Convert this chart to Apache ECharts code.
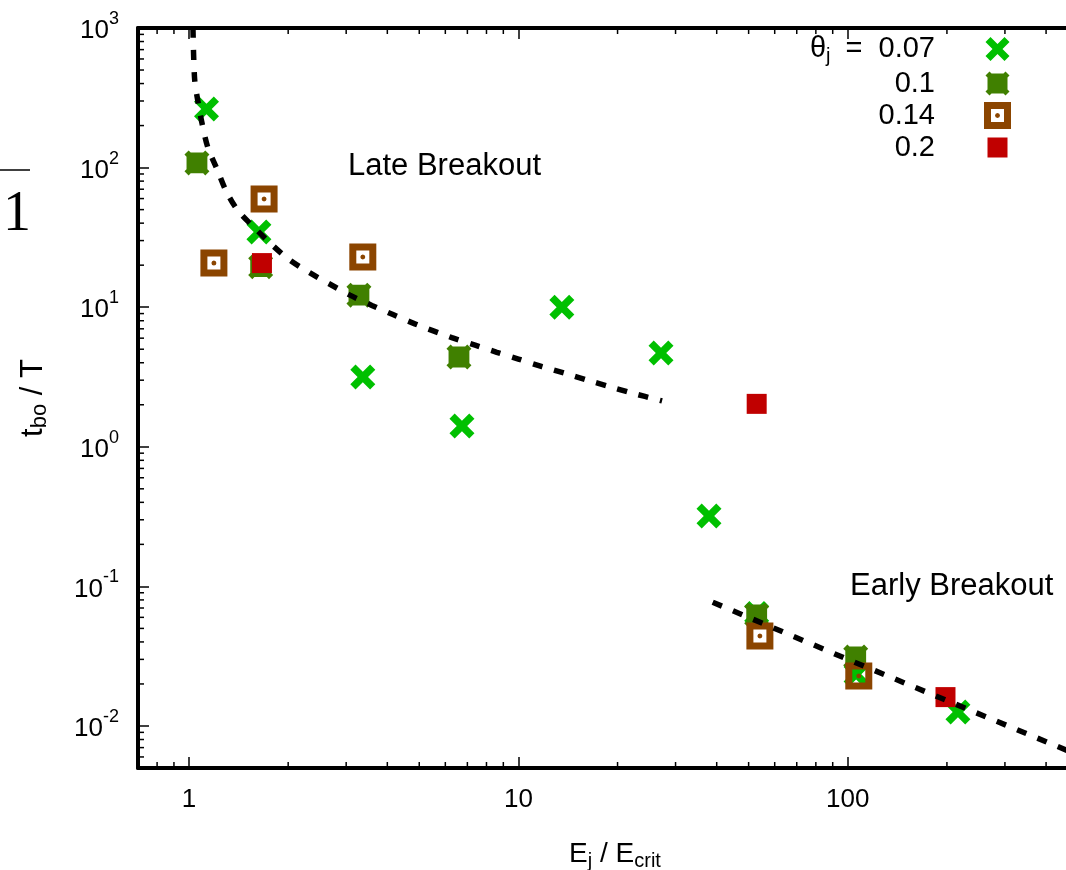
<!DOCTYPE html>
<html><head><meta charset="utf-8">
<script src="https://cdn.jsdelivr.net/npm/echarts@6/dist/echarts.min.js"></script>
<style>html,body{margin:0;padding:0;background:#fff}#c{width:1066px;height:870px}</style>
</head><body><div id="c"></div>
<script>
// ---------------- data ----------------
const seriesNames = ['0.07', '0.1', '0.14', '0.2'];
const theta007 = [[1.13,263],[1.63,34.6],[3.37,3.16],[6.74,1.41],[13.55,10.0],[27.1,4.7],[37.9,0.319],[52.9,0.064],[106,0.0235],[216,0.0126]];
const theta010 = [[1.057,108],[1.65,19.5],[3.28,12.2],[6.6,4.40],[52.9,0.0624],[105.7,0.0312]];
const theta014 = [[1.19,20.7],[1.69,59.6],[3.37,22.9],[54.1,0.0441],[108,0.0228]];
const theta020 = [[1.665,20.7],[52.9,2.03],[198,0.0161]];
const lateFit = [[1.028,1000],[1.04,430],[1.065,295],[1.095,208],[1.14,140],[1.216,97.6],[1.30,67],[1.41,49],[1.61,35.5],[1.80,27.5],[2.02,21.8],[2.33,17.6],[2.68,14.6],[3.08,12.2],[3.59,10.3],[4.16,8.85],[4.85,7.6],[6.28,6.05],[7.39,5.35],[8.6,4.75],[10,4.25],[11.8,3.75],[13.9,3.35],[16.2,3.0],[18.9,2.7],[22.1,2.43],[27.3,2.13]];
const earlyFit = [[38.9,0.077],[100,0.030],[200,0.0152],[500,0.0062]];
const xTickValues = [1, 10, 100];
const xTickLabels = ['1', '10', '100'];
const yTickValues = [0.01, 0.1, 1, 10, 100, 1000];
const yTickExps = ['-2', '-1', '0', '1', '2', '3'];
const xMinorTicks = [0.8,0.9,2,3,4,5,6,7,8,9,20,30,40,50,60,70,80,90,200,300,400];
const yMinorTicks = [0.006,0.007,0.008,0.009,0.02,0.03,0.04,0.05,0.06,0.07,0.08,0.09,0.2,0.3,0.4,0.5,0.6,0.7,0.8,0.9,2,3,4,5,6,7,8,9,20,30,40,50,60,70,80,90,200,300,400,500,600,700,800,900];

// ---------------- style ----------------
const X_MIN = 0.7, X_MAX = 500, Y_MIN = 0.005, Y_MAX = 1000;
const FONT = '"Liberation Sans", Arial, Helvetica, sans-serif';
const C_GREEN = '#00c000', C_DKGREEN = '#408000', C_BROWN = '#8b4500', C_RED = '#c00000';
const SYM_X = 'path://M0 5L5 0L12 7L19 0L24 5L17 12L24 19L19 24L12 17L5 24L0 19L7 12Z';
const SYM_STAR = 'path://M0 4L4 0L6 2L18 2L20 0L24 4L22 6L22 18L24 20L20 24L18 22L6 22L4 24L0 20L2 18L2 6Z';
const SYM_BOX = 'path://M0 0L27 0L27 27L0 27Z M7 7L7 20L20 20L20 7Z M13.5 11L15.3 11.7L16 13.5L15.3 15.3L13.5 16L11.7 15.3L11 13.5L11.7 11.7Z';
const SPECK = 'M0 0L0.01 0L0 0.01Z M27 27L26.99 27L27 26.99Z ';
const ICON_X = 'path://' + SPECK + 'M1.5 6.5L6.5 1.5L13.5 8.5L20.5 1.5L25.5 6.5L18.5 13.5L25.5 20.5L20.5 25.5L13.5 18.5L6.5 25.5L1.5 20.5L8.5 13.5Z';
const ICON_STAR = 'path://' + SPECK + 'M1.5 5.5L5.5 1.5L7.5 3.5L19.5 3.5L21.5 1.5L25.5 5.5L23.5 7.5L23.5 19.5L25.5 21.5L21.5 25.5L19.5 23.5L7.5 23.5L5.5 25.5L1.5 21.5L3.5 19.5L3.5 7.5Z';
const ICON_RED = 'path://' + SPECK + 'M3.5 3.5L23.5 3.5L23.5 23.5L3.5 23.5Z';

function matchIdx(arr, v) {
  for (let i = 0; i < arr.length; i++) if (Math.abs(v - arr[i]) / arr[i] < 1e-6) return i;
  return -1;
}

function xMinorRender(params, api) {
  const v = api.value(0);
  const b = api.coord([v, Y_MIN]), t = api.coord([v, Y_MAX]);
  const st = { stroke: '#000', lineWidth: 1.5 };
  return { type: 'group', children: [
    { type: 'line', shape: { x1: b[0], y1: b[1], x2: b[0], y2: b[1] - 6 }, style: st },
    { type: 'line', shape: { x1: t[0], y1: t[1], x2: t[0], y2: t[1] + 6 }, style: st }
  ]};
}
function yMinorRender(params, api) {
  const v = api.value(1);
  const l = api.coord([X_MIN, v]);
  return { type: 'line', shape: { x1: l[0], y1: l[1], x2: l[0] + 6, y2: l[1] },
           style: { stroke: '#000', lineWidth: 1.5 } };
}

const chart = echarts.init(document.getElementById('c'), null, { renderer: 'canvas', width: 1066, height: 870 });

const axisCommon = {
  type: 'log', logBase: 10,
  axisLine: { show: true, lineStyle: { color: '#000', width: 4 } },
  axisTick: { show: true, inside: true, length: 11, lineStyle: { color: '#000', width: 1.5 } },
  splitLine: { show: false },
  minorTick: { show: false }
};

const option = {
  animation: false,
  backgroundColor: '#fff',
  grid: { left: 138, top: 28, right: -12, bottom: 102, containLabel: false, outerBoundsMode: 'none' },
  xAxis: [
    Object.assign({}, axisCommon, {
      min: X_MIN, max: X_MAX, position: 'bottom',
      axisLabel: {
        margin: 19, color: '#000', fontFamily: FONT, fontSize: 26,
        formatter: v => { const i = matchIdx(xTickValues, v); return i >= 0 ? xTickLabels[i] : ''; }
      },
      name: 'E{sub|j} / E{sub|crit}', nameLocation: 'middle', nameGap: 70,
      nameTextStyle: { color: '#000', fontFamily: FONT, fontSize: 28, padding: [0, 0, 0, 14],
        rich: { sub: { fontFamily: FONT, fontSize: 20, color: '#000', padding: [13, 0, 0, 0] } } }
    }),
    Object.assign({}, axisCommon, {
      min: X_MIN, max: X_MAX, position: 'top',
      axisLabel: { show: false }
    })
  ],
  yAxis: [
    Object.assign({}, axisCommon, {
      min: Y_MIN, max: Y_MAX, position: 'left',
      axisLabel: {
        margin: 19, color: '#000', fontFamily: FONT,
        formatter: v => { const i = matchIdx(yTickValues, v); return i >= 0 ? '{b|10}{s|' + yTickExps[i] + '}' : ''; },
        rich: {
          b: { fontFamily: FONT, fontSize: 26, color: '#000', padding: [6, 0, 0, 0] },
          s: { fontFamily: FONT, fontSize: 18, color: '#000', padding: [0, 0, 18, 0] }
        }
      },
      name: 't{sub|bo} / T', nameLocation: 'middle', nameGap: 87, nameRotate: 90,
      nameTextStyle: { color: '#000', fontFamily: FONT, fontSize: 31,
        rich: { sub: { fontFamily: FONT, fontSize: 22, color: '#000', padding: [14, 0, 0, 0] } } }
    })
  ],
  legend: {
    orient: 'vertical', left: 730, top: 27, align: 'right',
    itemWidth: 27, itemHeight: 27, itemGap: 3, selectedMode: false,
    data: [
      { name: seriesNames[0], icon: ICON_X },
      { name: seriesNames[1], icon: ICON_STAR },
      { name: seriesNames[2], icon: SYM_BOX },
      { name: seriesNames[3], icon: ICON_RED }
    ],
    formatter: name => name === seriesNames[0]
      ? '{n|θ}{j|j}{n| =  ' + name + '}' : '{n|' + name + '}',
    textStyle: {
      width: 200, align: 'right', padding: [0, 44, 0, 0], lineHeight: 27,
      color: '#000', fontFamily: FONT, fontSize: 29,
      rich: {
        n: { align: 'right', fontFamily: FONT, fontSize: 29, lineHeight: 27, color: '#000' },
        j: { align: 'right', fontFamily: FONT, fontSize: 20, lineHeight: 14, color: '#000', padding: [14, 7, 0, 0] }
      }
    }
  },
  graphic: [
    { type: 'text', left: 348, top: 151, style: { text: 'Late Breakout', fontFamily: FONT, fontSize: 31, fill: '#000' } },
    { type: 'text', left: 850, top: 571, style: { text: 'Early Breakout', fontFamily: FONT, fontSize: 31, fill: '#000' } },
    { type: 'line', shape: { x1: 0, y1: 170, x2: 30, y2: 170 }, style: { stroke: '#000', lineWidth: 1.5 } },
    { type: 'text', left: 3, top: 187, style: { text: '1', fontFamily: '"Liberation Serif", "DejaVu Serif", serif', fontSize: 56, fill: '#000' } }
  ],
  series: [
    { name: seriesNames[0], type: 'scatter', data: theta007, symbol: SYM_X, symbolSize: 25,
      itemStyle: { color: C_GREEN, opacity: 1 }, z: 2 },
    { name: seriesNames[1], type: 'scatter', data: theta010, symbol: SYM_STAR, symbolSize: 25,
      itemStyle: { color: C_DKGREEN, opacity: 1 }, z: 2 },
    { name: seriesNames[2], type: 'scatter', data: theta014, symbol: SYM_BOX, symbolSize: 27,
      itemStyle: { color: C_BROWN, opacity: 1 }, z: 2 },
    { name: seriesNames[3], type: 'scatter', data: theta020, symbol: 'rect', symbolSize: 20,
      itemStyle: { color: C_RED, opacity: 1 }, z: 2 },
    { name: 'late fit', type: 'line', data: lateFit, smooth: 0.3, showSymbol: false, symbol: 'none',
      lineStyle: { color: '#000', width: 5.5, type: [10, 12], cap: 'butt' }, z: 3, silent: true },
    { name: 'early fit', type: 'line', data: earlyFit, smooth: false, showSymbol: false, symbol: 'none',
      lineStyle: { color: '#000', width: 5.5, type: [10, 12], cap: 'butt' }, z: 3, silent: true },
    { name: 'xminor', type: 'custom', data: xMinorTicks.map(v => [v, Y_MIN]), renderItem: xMinorRender,
      encode: { x: 0, y: 1 }, clip: false, silent: true, z: 4 },
    { name: 'yminor', type: 'custom', data: yMinorTicks.map(v => [X_MIN, v]), renderItem: yMinorRender,
      encode: { x: 0, y: 1 }, clip: false, silent: true, z: 4 }
  ]
};
chart.setOption(option);
</script>
</body></html>
